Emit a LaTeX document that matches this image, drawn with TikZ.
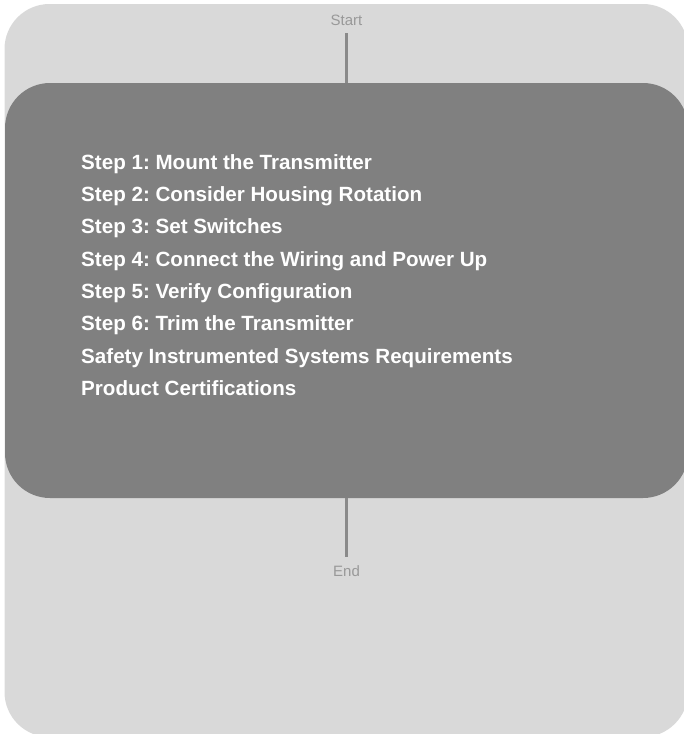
\documentclass[tikz,border=0pt]{standalone}
\usepackage{fontspec}
\setmainfont{Liberation Sans}
\frenchspacing
\definecolor{outerbg}{HTML}{D9D9D9}
\definecolor{innerbg}{HTML}{808080}
\definecolor{linkc}{HTML}{8A8A8A}
\definecolor{termtext}{HTML}{999999}
\tikzset{
  termlabel/.style={font=\fontsize{15}{18}\selectfont, text=termtext, inner sep=0pt, anchor=base},
  stepline/.style={font=\bfseries\fontsize{20.6}{24}\selectfont, text=white, inner sep=0pt, anchor=base west},
  link/.style={draw=linkc, line width=3pt},
  groupbox/.style={fill=innerbg, draw=none, rounded corners=45pt, minimum width=683pt, minimum height=415pt, inner sep=0pt}
}
\begin{document}
\begin{tikzpicture}[x=1pt,y=-1pt]
\useasboundingbox (0,0) rectangle (684,734);
\clip (0,0) rectangle (684,734);
\fill[outerbg, rounded corners=45pt] (4.5,4) rectangle (688,737);
\node[groupbox] (box) at (346.5,290.5) {};
\node[termlabel] (start) at (346.5,25) {Start};
\node[termlabel] (end) at (346.5,576) {End};
\draw[link, shorten <=8pt] (start.south) -- (box.north);
\draw[link, shorten >=8pt] (box.south) -- (end.north);
\node[stepline] (s1) at (81,169.3) {Step 1: Mount the Transmitter};
\node[stepline] (s2) at (81,201.6) {Step 2: Consider Housing Rotation};
\node[stepline] (s3) at (81,233.9) {Step 3: Set Switches};
\node[stepline] (s4) at (81,266.2) {Step 4: Connect the Wiring and Power Up};
\node[stepline] (s5) at (81,298.5) {Step 5: Verify Configuration};
\node[stepline] (s6) at (81,330.8) {Step 6: Trim the Transmitter};
\node[stepline] (s7) at (81,363.1) {Safety Instrumented Systems Requirements};
\node[stepline] (s8) at (81,395.4) {Product Certifications};
\end{tikzpicture}
\end{document}
